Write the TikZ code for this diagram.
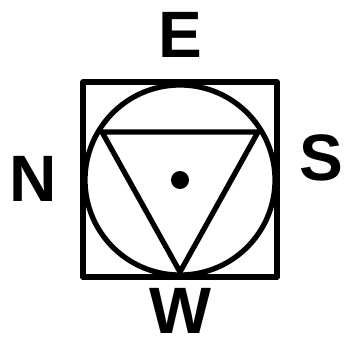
\documentclass[tikz,border=0pt]{standalone}
\usepackage{fontspec}
\setmainfont{Liberation Sans}
\usetikzlibrary{positioning}
\tikzset{
  heavy/.style={line width=4.5pt, line join=round},
  point/.style={font=\fontsize{56}{58}\selectfont\bfseries, inner sep=0pt, anchor=center}
}
\begin{document}
\begin{tikzpicture}[x=0.03cm, y=-0.03cm]
\useasboundingbox (0,0) rectangle (348,347);
% Frame and circle
\coordinate (c) at (180,180);
\draw[heavy] (83,82) rectangle (277,277);
\draw[heavy] (c) circle (95);
% Inverted triangle
\coordinate (t1) at (102,132);
\coordinate (t2) at (258,132);
\coordinate (t3) at (180,272);
\draw[heavy] (t1) -- (t2) -- (t3) -- cycle;
\fill (c) circle (9);
% Letters
\node[point] (e) at (180,35) {E};
\node[point] (n) at (33,179) {N};
\node[point] (s) at (321,158) {S};
\node[point] (w) at (180,311) {W};
\end{tikzpicture}
\end{document}
